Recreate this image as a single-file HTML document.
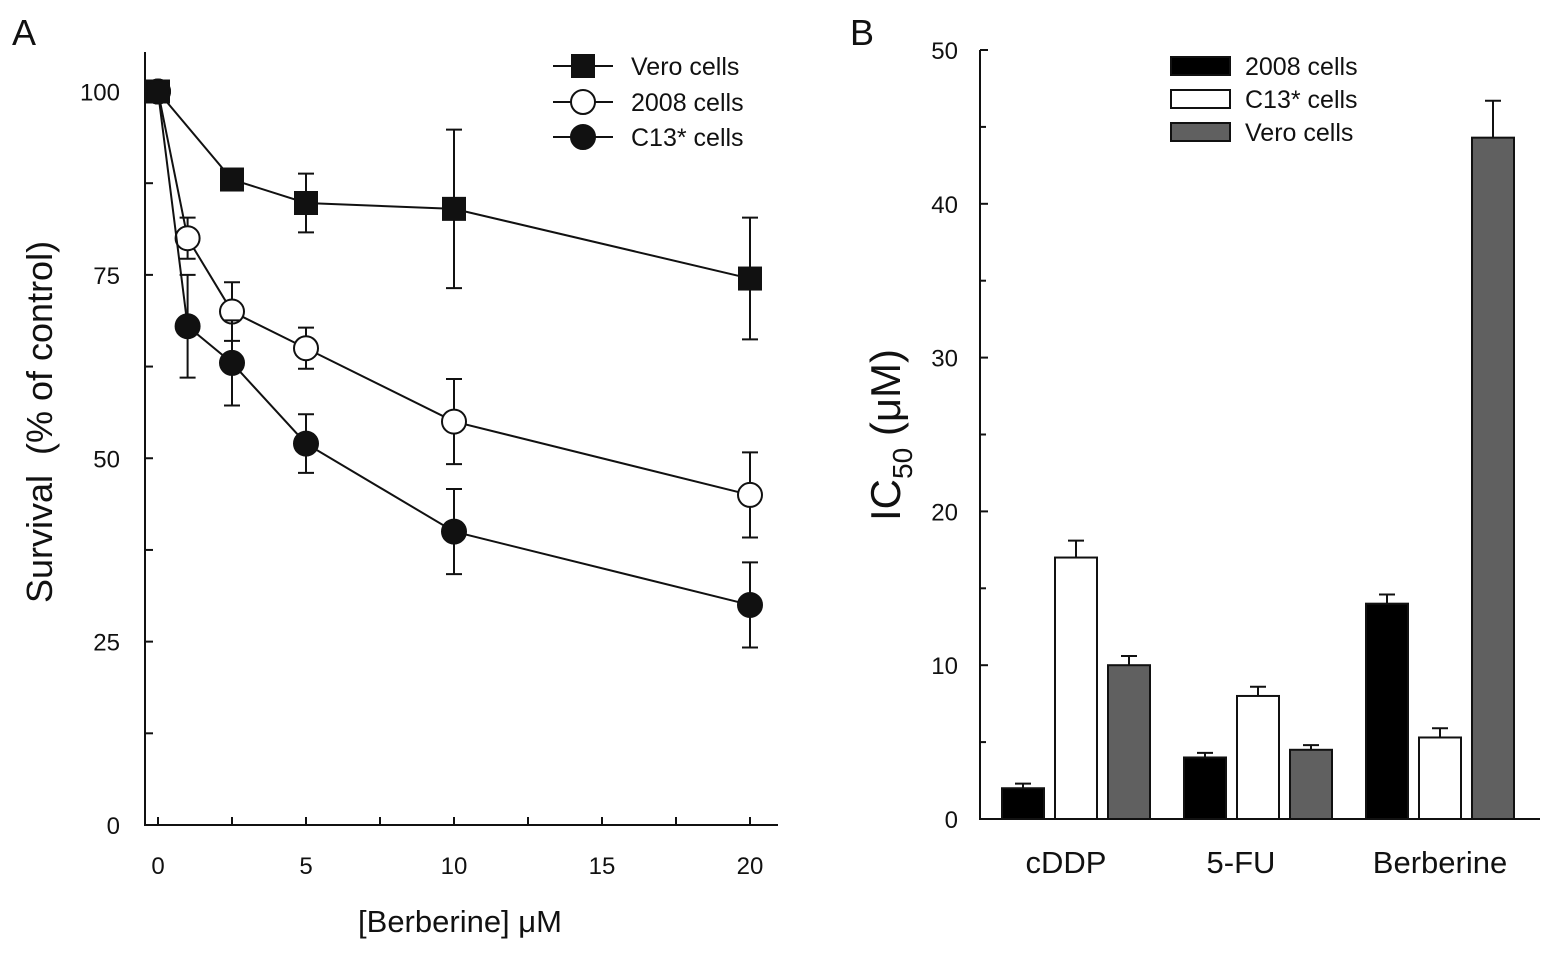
<!DOCTYPE html>
<html><head><meta charset="utf-8"><style>
body{margin:0;background:#fff;font-family:"Liberation Sans",Arial,sans-serif}
svg text{font-family:"Liberation Sans",Arial,sans-serif;fill:#111}
</style></head><body>
<svg id="chart" width="1559" height="954" viewBox="0 0 1559 954" xmlns="http://www.w3.org/2000/svg">
<text x="12" y="45" font-size="36">A</text>
<text x="850" y="45" font-size="36">B</text>
<text transform="translate(52,422) rotate(-90)" text-anchor="middle" font-size="36" xml:space="preserve">Survival  (% of control)</text>
<text x="460" y="932" text-anchor="middle" font-size="31">[Berberine] μM</text>
<text transform="translate(900,435) rotate(-90)" text-anchor="middle" font-size="42">IC<tspan font-size="28" dy="12">50</tspan><tspan dy="-12"> (μM)</tspan></text>
<g id="gA"></g><g id="gB"></g>
</svg>
<script>
const concVero=[0,2.5,5,10,20];
const survVero=[100,88,84.8,84,74.5];
const errVero=[0,0,4,10.8,8.3];
const conc2008=[0,1,2.5,5,10,20];
const surv2008=[100,80,70,65,55,45];
const err2008=[0,2.8,4,2.8,5.8,5.8];
const concC13=[0,1,2.5,5,10,20];
const survC13=[100,68,63,52,40,30];
const errC13=[0,7,5.8,4,5.8,5.8];
const xTicksA=[0,5,10,15,20];
const yTicksA=[0,25,50,75,100];

const categories=["cDDP","5-FU","Berberine"];
const ic2008=[2,4,14];
const icC13=[17,8,5.3];
const icVero=[10,4.5,44.3];
const ie2008=[0.3,0.3,0.6];
const ieC13=[1.1,0.6,0.6];
const ieVero=[0.6,0.3,2.4];
const yTicksB=[0,10,20,30,40,50];

const NS="http://www.w3.org/2000/svg";
function mk(p,tag,a){const e=document.createElementNS(NS,tag);for(const k in a)e.setAttribute(k,a[k]);p.appendChild(e);return e;}
// Panel A
const gA=document.getElementById('gA');
const xA=v=>158+v*29.6, yA=v=>825-v*7.335;
let ax=mk(gA,'path',{d:'M145,52 V825 H778',fill:'none',stroke:'#111','stroke-width':2});


for(let v=0;v<=100;v+=12.5){const t=mk(gA,'line',{x1:145,x2:153,y1:yA(v),y2:yA(v),stroke:'#111','stroke-width':2});

}
for(let v=0;v<=20;v+=2.5){const t=mk(gA,'line',{x1:xA(v),x2:xA(v),y1:825,y2:817,stroke:'#111','stroke-width':2});

}
yTicksA.forEach(v=>{const t=mk(gA,'text',{x:120,y:yA(v)+9,'text-anchor':'end','font-size':24});t.textContent=v;

});
xTicksA.forEach(v=>{const t=mk(gA,'text',{x:xA(v),y:874,'text-anchor':'middle','font-size':24});t.textContent=v;

});
function marker(g,x,y,type){
  if(type==='sq') return mk(g,'rect',{x:x-12,y:y-12,width:24,height:24,fill:'#111'});
  return mk(g,'circle',{cx:x,cy:y,r:12,fill:type==='open'?'#fff':'#111',stroke:'#111','stroke-width':2});
}
function series(name,xs,ys,es,type){
  const g=mk(gA,'g',{});
  
  
  mk(g,'polyline',{points:xs.map((x,i)=>xA(x)+','+yA(ys[i])).join(' '),fill:'none',stroke:'#111','stroke-width':2});
  xs.forEach((x,i)=>{if(es[i]>0){const X=xA(x);
    mk(g,'path',{d:`M${X},${yA(ys[i]-es[i])}V${yA(ys[i]+es[i])}M${X-8},${yA(ys[i]-es[i])}h16M${X-8},${yA(ys[i]+es[i])}h16`,stroke:'#111','stroke-width':2});}});
  xs.forEach((x,i)=>{const m=marker(g,xA(x),yA(ys[i]),type);
    
    });
}
series('series-vero',concVero,survVero,errVero,'sq');
series('series-2008',conc2008,surv2008,err2008,'open');
series('series-c13',concC13,survC13,errC13,'fill');
[['Vero cells','sq',66],['2008 cells','open',102],['C13* cells','fill',137]].forEach(([t,ty,y])=>{
  const g=mk(gA,'g',{});
  
  
  mk(g,'line',{x1:553,x2:613,y1:y,y2:y,stroke:'#111','stroke-width':2});
  marker(g,583,y,ty);
  const tx=mk(g,'text',{x:631,y:y+9,'font-size':25});tx.textContent=t;
});
// Panel B
const gB=document.getElementById('gB');
const yB=v=>819-v*15.38;
let bx=mk(gB,'path',{d:'M980,50 V819 H1540',fill:'none',stroke:'#111','stroke-width':2});


for(let v=0;v<=50;v+=5){const t=mk(gB,'line',{x1:980,x2:v%10?986:988,y1:yB(v),y2:yB(v),stroke:'#111','stroke-width':2});

}
yTicksB.forEach(v=>{const t=mk(gB,'text',{x:958,y:yB(v)+9,'text-anchor':'end','font-size':24});t.textContent=v;

});
const groupX=i=>1076+i*182;
const series3=[[ic2008,ie2008,'#000','bar-2008'],[icC13,ieC13,'#fff','bar-c13'],[icVero,ieVero,'#606060','bar-vero']];
categories.forEach((c,i)=>{
  const t=mk(gB,'text',{x:groupX(i)-(i==0?10:(i==1?17:0)),y:873,'text-anchor':'middle','font-size':31});t.textContent=c;
  
  
  series3.forEach(([vals,errs,col,nm],j)=>{
    const cx=groupX(i)+(j-1)*53, v=vals[i], e=errs[i];
    mk(gB,'path',{d:`M${cx},${yB(v)}V${yB(v+e)}M${cx-8},${yB(v+e)}h16`,stroke:'#111','stroke-width':2});
    const r=mk(gB,'rect',{x:cx-21,y:yB(v),width:42,height:yB(0)-yB(v),fill:col,stroke:'#111','stroke-width':2});
    
    
  });
});
[['2008 cells','#000',66],['C13* cells','#fff',99],['Vero cells','#606060',132]].forEach(([t,c,y])=>{
  const g=mk(gB,'g',{});
  
  
  mk(g,'rect',{x:1171,y:y-9,width:59,height:18,fill:c,stroke:'#111','stroke-width':2});
  const tx=mk(g,'text',{x:1245,y:y+9,'font-size':25});tx.textContent=t;
});
</script>
</body></html>
